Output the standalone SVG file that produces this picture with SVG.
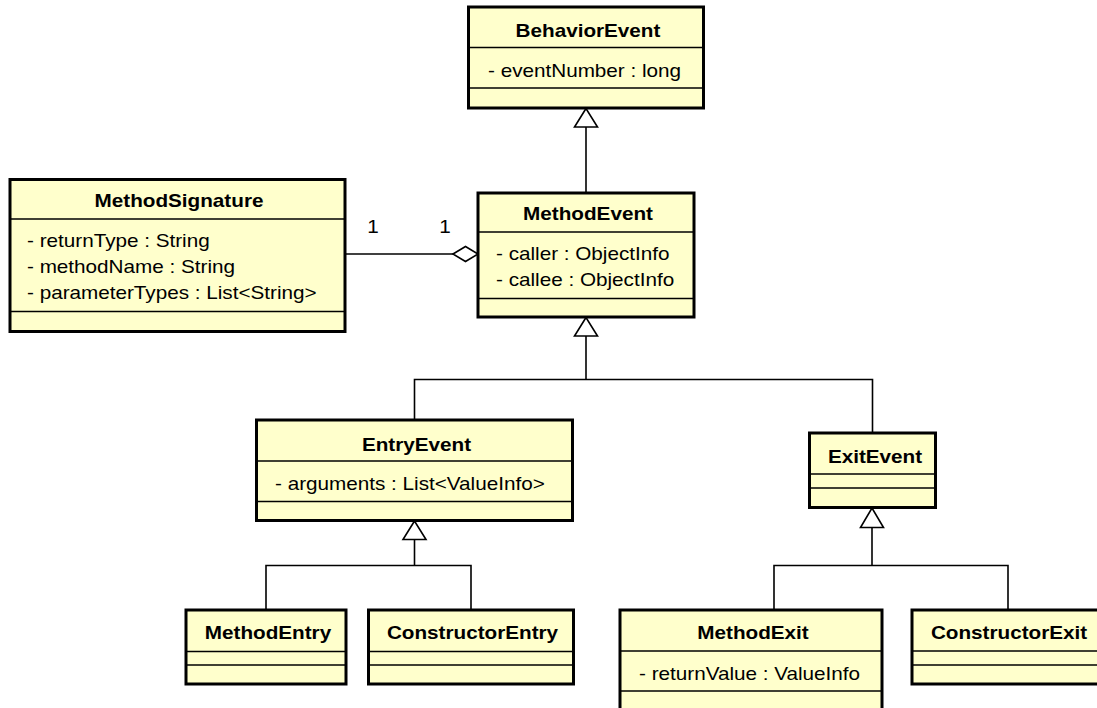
<svg xmlns="http://www.w3.org/2000/svg" width="1097" height="708" viewBox="0 0 1097 708">
<style>
.box{fill:#FFFFCC;stroke:#000;stroke-width:3}
.sep{stroke:#000;stroke-width:1.6;fill:none}
.t{font-family:"Liberation Sans",Arial,sans-serif;font-size:18px;fill:#000}
.b{font-weight:bold;text-anchor:middle}
.c{stroke:#000;stroke-width:1.6;fill:none}
.tri{fill:#fff;stroke:#000;stroke-width:1.6}
</style>
<rect width="1097" height="708" fill="#fff"/>
<g id="connectors">
  <!-- MethodEvent to BehaviorEvent -->
  <line class="c" x1="586" y1="127" x2="586" y2="193"/>
  <polygon class="tri" points="586,108.5 574.5,127 597.5,127"/>
  <!-- Entry/Exit to MethodEvent -->
  <polyline class="c" points="414.5,420 414.5,379.5 872.5,379.5 872.5,433"/>
  <line class="c" x1="586" y1="336" x2="586" y2="379.5"/>
  <polygon class="tri" points="586,317.5 574.5,336 597.5,336"/>
  <!-- MethodEntry/ConstructorEntry to EntryEvent -->
  <polyline class="c" points="266,610 266,565.5 471,565.5 471,610"/>
  <line class="c" x1="414.5" y1="539.5" x2="414.5" y2="565.5"/>
  <polygon class="tri" points="414.5,521 403,539.5 426,539.5"/>
  <!-- MethodExit/ConstructorExit to ExitEvent -->
  <polyline class="c" points="774,610 774,565.5 1008,565.5 1008,610"/>
  <line class="c" x1="872" y1="527.5" x2="872" y2="565.5"/>
  <polygon class="tri" points="872,508 860.5,527.5 883.5,527.5"/>
  <!-- aggregation MethodSignature - MethodEvent -->
  <line class="c" x1="345" y1="254" x2="453" y2="254"/>
  <polygon class="tri" points="453,254 465.5,246.5 478,254 465.5,261.5"/>
  <text class="t" transform="translate(373,233) scale(1.15,1)" text-anchor="middle">1</text>
  <text class="t" transform="translate(445,233) scale(1.15,1)" text-anchor="middle">1</text>
</g>
<g id="BehaviorEvent">
  <rect class="box" x="468.5" y="7" width="235" height="101"/>
  <line class="sep" x1="468.5" y1="47.5" x2="703.5" y2="47.5"/>
  <line class="sep" x1="468.5" y1="88" x2="703.5" y2="88"/>
  <text class="t b" transform="translate(588,37) scale(1.15,1)">BehaviorEvent</text>
  <text class="t" transform="translate(488,77) scale(1.15,1)">- eventNumber : long</text>
</g>
<g id="MethodSignature">
  <rect class="box" x="10" y="179.5" width="335" height="152"/>
  <line class="sep" x1="10" y1="219" x2="345" y2="219"/>
  <line class="sep" x1="10" y1="311.5" x2="345" y2="311.5"/>
  <text class="t b" transform="translate(179,207) scale(1.15,1)">MethodSignature</text>
  <text class="t" transform="translate(27,247) scale(1.15,1)">- returnType : String</text>
  <text class="t" transform="translate(27,273) scale(1.15,1)">- methodName : String</text>
  <text class="t" transform="translate(27,299) scale(1.15,1)">- parameterTypes : List&lt;String&gt;</text>
</g>
<g id="MethodEvent">
  <rect class="box" x="478" y="193" width="216" height="124"/>
  <line class="sep" x1="478" y1="232" x2="694" y2="232"/>
  <line class="sep" x1="478" y1="298.5" x2="694" y2="298.5"/>
  <text class="t b" transform="translate(588,220) scale(1.15,1)">MethodEvent</text>
  <text class="t" transform="translate(496,260) scale(1.15,1)">- caller : ObjectInfo</text>
  <text class="t" transform="translate(496,286) scale(1.15,1)">- callee : ObjectInfo</text>
</g>
<g id="EntryEvent">
  <rect class="box" x="256.5" y="420" width="316" height="100.5"/>
  <line class="sep" x1="256.5" y1="461" x2="572.5" y2="461"/>
  <line class="sep" x1="256.5" y1="501.5" x2="572.5" y2="501.5"/>
  <text class="t b" transform="translate(416.5,451) scale(1.15,1)">EntryEvent</text>
  <text class="t" transform="translate(275,490) scale(1.15,1)">- arguments : List&lt;ValueInfo&gt;</text>
</g>
<g id="ExitEvent">
  <rect class="box" x="809.5" y="433" width="126" height="74.5"/>
  <line class="sep" x1="809.5" y1="474" x2="935.5" y2="474"/>
  <line class="sep" x1="809.5" y1="488" x2="935.5" y2="488"/>
  <text class="t b" transform="translate(875,463) scale(1.15,1)">ExitEvent</text>
</g>
<g id="MethodEntry">
  <rect class="box" x="186" y="610" width="160" height="74"/>
  <line class="sep" x1="186" y1="651.5" x2="346" y2="651.5"/>
  <line class="sep" x1="186" y1="665" x2="346" y2="665"/>
  <text class="t b" transform="translate(268,639) scale(1.15,1)">MethodEntry</text>
</g>
<g id="ConstructorEntry">
  <rect class="box" x="368.5" y="610" width="205" height="74"/>
  <line class="sep" x1="368.5" y1="651.5" x2="573.5" y2="651.5"/>
  <line class="sep" x1="368.5" y1="665" x2="573.5" y2="665"/>
  <text class="t b" transform="translate(472.5,639) scale(1.15,1)">ConstructorEntry</text>
</g>
<g id="MethodExit">
  <rect class="box" x="620" y="610" width="262" height="110"/>
  <line class="sep" x1="620" y1="651" x2="882" y2="651"/>
  <line class="sep" x1="620" y1="691" x2="882" y2="691"/>
  <text class="t b" transform="translate(753,639) scale(1.15,1)">MethodExit</text>
  <text class="t" transform="translate(639,680) scale(1.15,1)">- returnValue : ValueInfo</text>
</g>
<g id="ConstructorExit">
  <rect class="box" x="912" y="610" width="192" height="74"/>
  <line class="sep" x1="912" y1="651" x2="1104" y2="651"/>
  <line class="sep" x1="912" y1="665" x2="1104" y2="665"/>
  <text class="t b" transform="translate(1009,639) scale(1.15,1)">ConstructorExit</text>
</g>
</svg>
